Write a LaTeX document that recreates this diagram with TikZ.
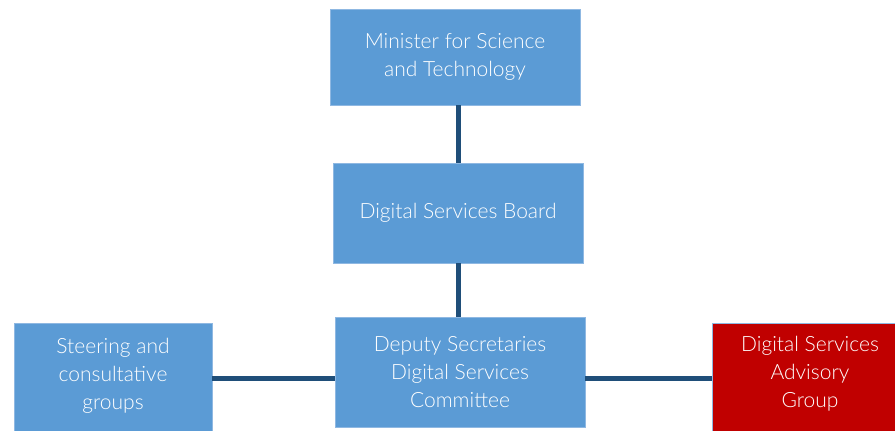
\documentclass[tikz,border=0pt]{standalone}
\usepackage{fontspec}
\setmainfont{Lato Light}
\begin{document}
\begin{tikzpicture}[x=1pt,y=-1pt,
  box/.style={draw=boxedge,line width=0.8pt,fill=boxblue,text=white,align=center,
    font=\fontsize{21}{28}\selectfont,inner sep=0pt},
  redbox/.style={box,fill=boxred},
  link/.style={draw=linkblue,line width=5pt}]
\definecolor{boxblue}{HTML}{5B9BD5}
\definecolor{boxedge}{HTML}{8FB8E2}
\definecolor{boxred}{HTML}{C00000}
\definecolor{linkblue}{HTML}{1F4E79}
\useasboundingbox (0,0) rectangle (895,431);
\begin{scope}
\clip (0,0) rectangle (895,431);
\node[box,minimum width=250pt,minimum height=96pt] (min) at (455,57) {Minister for Science\\and Technology};
\node[box,minimum width=250pt,minimum height=100pt] (board) at (458,213) {Digital Services Board};
\node[box,minimum width=250pt,minimum height=110pt] (dep) at (460,372) {Deputy Secretaries\\Digital Services\\Committee};
\node[box,minimum width=198pt,minimum height=112pt,anchor=north west,text depth=0pt] (steer) at (14,323) {};
\node[text=white,align=center,font=\fontsize{21}{28}\selectfont] (steertext) at (113,376) {Steering and\\consultative\\groups};
\node[redbox,minimum width=190pt,minimum height=112pt,anchor=north west] (adv) at (712,323) {};
\node[text=white,align=center,font=\fontsize{21}{28}\selectfont] (advtext) at (810,374) {Digital Services\\Advisory\\Group};
\end{scope}
\coordinate (mb) at (458,105);
\coordinate (bt) at (458,163);
\coordinate (bb) at (458,263);
\coordinate (dt) at (458,317);
\coordinate (sr) at (212,378);
\coordinate (dl) at (335,378);
\coordinate (dr) at (585,378);
\coordinate (al) at (712,378);
\draw[link] (mb) -- (bt);
\draw[link] (bb) -- (dt);
\draw[link] (sr) -- (dl);
\draw[link] (dr) -- (al);
\end{tikzpicture}
\end{document}
